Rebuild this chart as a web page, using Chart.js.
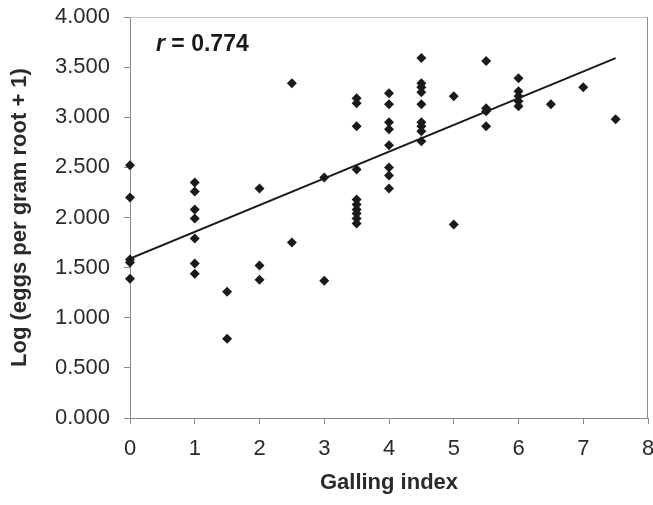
<!DOCTYPE html>
<html>
<head>
<meta charset="utf-8">
<title>Galling index vs log eggs</title>
<script src="https://cdn.jsdelivr.net/npm/chart.js@4/dist/chart.umd.min.js"></script>
<style>
    html, body { margin: 0; padding: 0; background: #fff; }
    #wrap { width: 653px; height: 505px; position: relative; }
</style>
</head>
<body>
<div id="wrap"><canvas id="gallChart"></canvas></div>
<script>
// galling index (x) and log(eggs per gram root + 1) (y)
const gallingIndex = [
    0, 0, 0, 0, 0,
    1, 1, 1, 1, 1, 1, 1,
    1.5, 1.5,
    2, 2, 2,
    2.5, 2.5,
    3, 3,
    3.5, 3.5, 3.5, 3.5, 3.5, 3.5, 3.5, 3.5, 3.5, 3.5,
    4, 4, 4, 4, 4, 4, 4, 4,
    4.5, 4.5, 4.5, 4.5, 4.5, 4.5, 4.5, 4.5, 4.5,
    5, 5,
    5.5, 5.5, 5.5, 5.5,
    6, 6, 6, 6, 6,
    6.5, 7, 7.5
];
const logEggs = [
    2.52, 2.20, 1.58, 1.55, 1.39,
    2.35, 2.26, 2.08, 1.99, 1.79, 1.54, 1.44,
    1.26, 0.79,
    2.29, 1.52, 1.38,
    3.34, 1.75,
    2.40, 1.37,
    3.19, 3.14, 2.91, 2.48, 2.18, 2.13, 2.08, 2.04, 1.99, 1.94,
    3.24, 3.13, 2.95, 2.88, 2.72, 2.50, 2.42, 2.29,
    3.59, 3.34, 3.30, 3.25, 3.13, 2.95, 2.91, 2.86, 2.76,
    3.21, 1.93,
    3.56, 3.09, 3.06, 2.91,
    3.39, 3.26, 3.21, 3.16, 3.11,
    3.13, 3.30, 2.98
];
// fitted line end points
const trendX = [0, 7.5];
const trendY = [1.59, 3.59];
const rLabel = "0.774";

const FONT = "'Liberation Sans', Arial, sans-serif";

const plotFrame = {
    id: "plotFrame",
    afterDraw(chart) {
        const { ctx, chartArea } = chart;
        ctx.save();
        // top + right edge of the plot area
        ctx.strokeStyle = "#c8c8c8";
        ctx.lineWidth = 1;
        ctx.beginPath();
        ctx.moveTo(chartArea.left, chartArea.top + 0.5);
        ctx.lineTo(chartArea.right, chartArea.top + 0.5);
        ctx.stroke();
        ctx.strokeStyle = "#8a8a8a";
        ctx.beginPath();
        ctx.moveTo(chartArea.right - 0.5, chartArea.top);
        ctx.lineTo(chartArea.right - 0.5, chartArea.bottom);
        ctx.stroke();

        // r = 0.774
        ctx.fillStyle = "#1a1a1a";
        ctx.textBaseline = "middle";
        let x = chartArea.left + 26;
        const y = chartArea.top + 28;
        ctx.font = "italic bold 23px " + FONT;
        ctx.fillText("r", x, y);
        x += ctx.measureText("r").width;
        ctx.font = "bold 23px " + FONT;
        ctx.fillText(" = " + rLabel, x, y);
        ctx.restore();
    }
};

const points = gallingIndex.map((g, i) => ({ x: g, y: logEggs[i] }));
const trend = trendX.map((g, i) => ({ x: g, y: trendY[i] }));

new Chart(document.getElementById("gallChart"), {
    type: "scatter",
    data: {
        datasets: [
            {
                type: "line",
                data: trend,
                borderColor: "#1a1a1a",
                borderWidth: 2,
                pointRadius: 0,
                fill: false
            },
            {
                data: points,
                clip: false,
                pointStyle: "rectRot",
                pointRadius: 5,
                pointHoverRadius: 5,
                backgroundColor: "#1a1a1a",
                borderColor: "#1a1a1a",
                borderWidth: 0
            }
        ]
    },
    options: {
        responsive: true,
        maintainAspectRatio: false,
        animation: false,
        layout: { padding: { top: 17, right: 5, left: 0, bottom: 0 } },
        plugins: {
            legend: { display: false },
            tooltip: { enabled: false }
        },
        scales: {
            x: {
                type: "linear",
                min: 0,
                max: 8,
                ticks: {
                    stepSize: 1,
                    color: "#2a2a2a",
                    font: { family: FONT, size: 22 },
                    padding: 12
                },
                grid: { drawOnChartArea: false, drawTicks: true, tickLength: 6, color: "#8a8a8a" },
                border: { color: "#8a8a8a", width: 1 },
                title: {
                    display: true,
                    text: "Galling index",
                    color: "#2a2a2a",
                    font: { family: FONT, size: 22, weight: "bold" },
                    padding: { top: 0, bottom: 9 }
                },
                afterFit(scale) {
                    scale.height = 87;
                    scale.paddingLeft = 0;
                    scale.paddingRight = 0;
                }
            },
            y: {
                min: 0,
                max: 4,
                ticks: {
                    stepSize: 0.5,
                    color: "#2a2a2a",
                    font: { family: FONT, size: 22 },
                    padding: 14,
                    callback: v => v.toFixed(3)
                },
                grid: { drawOnChartArea: false, drawTicks: true, tickLength: 6, color: "#8a8a8a" },
                border: { color: "#8a8a8a", width: 1 },
                title: {
                    display: true,
                    text: "Log (eggs per gram root + 1)",
                    color: "#2a2a2a",
                    font: { family: FONT, size: 22, weight: "bold" },
                    padding: { top: 7, bottom: 0 }
                },
                afterFit(scale) {
                    scale.width = 130;
                    scale.paddingTop = 0;
                    scale.paddingBottom = 0;
                }
            }
        }
    },
    plugins: [plotFrame]
});
</script>
</body>
</html>
